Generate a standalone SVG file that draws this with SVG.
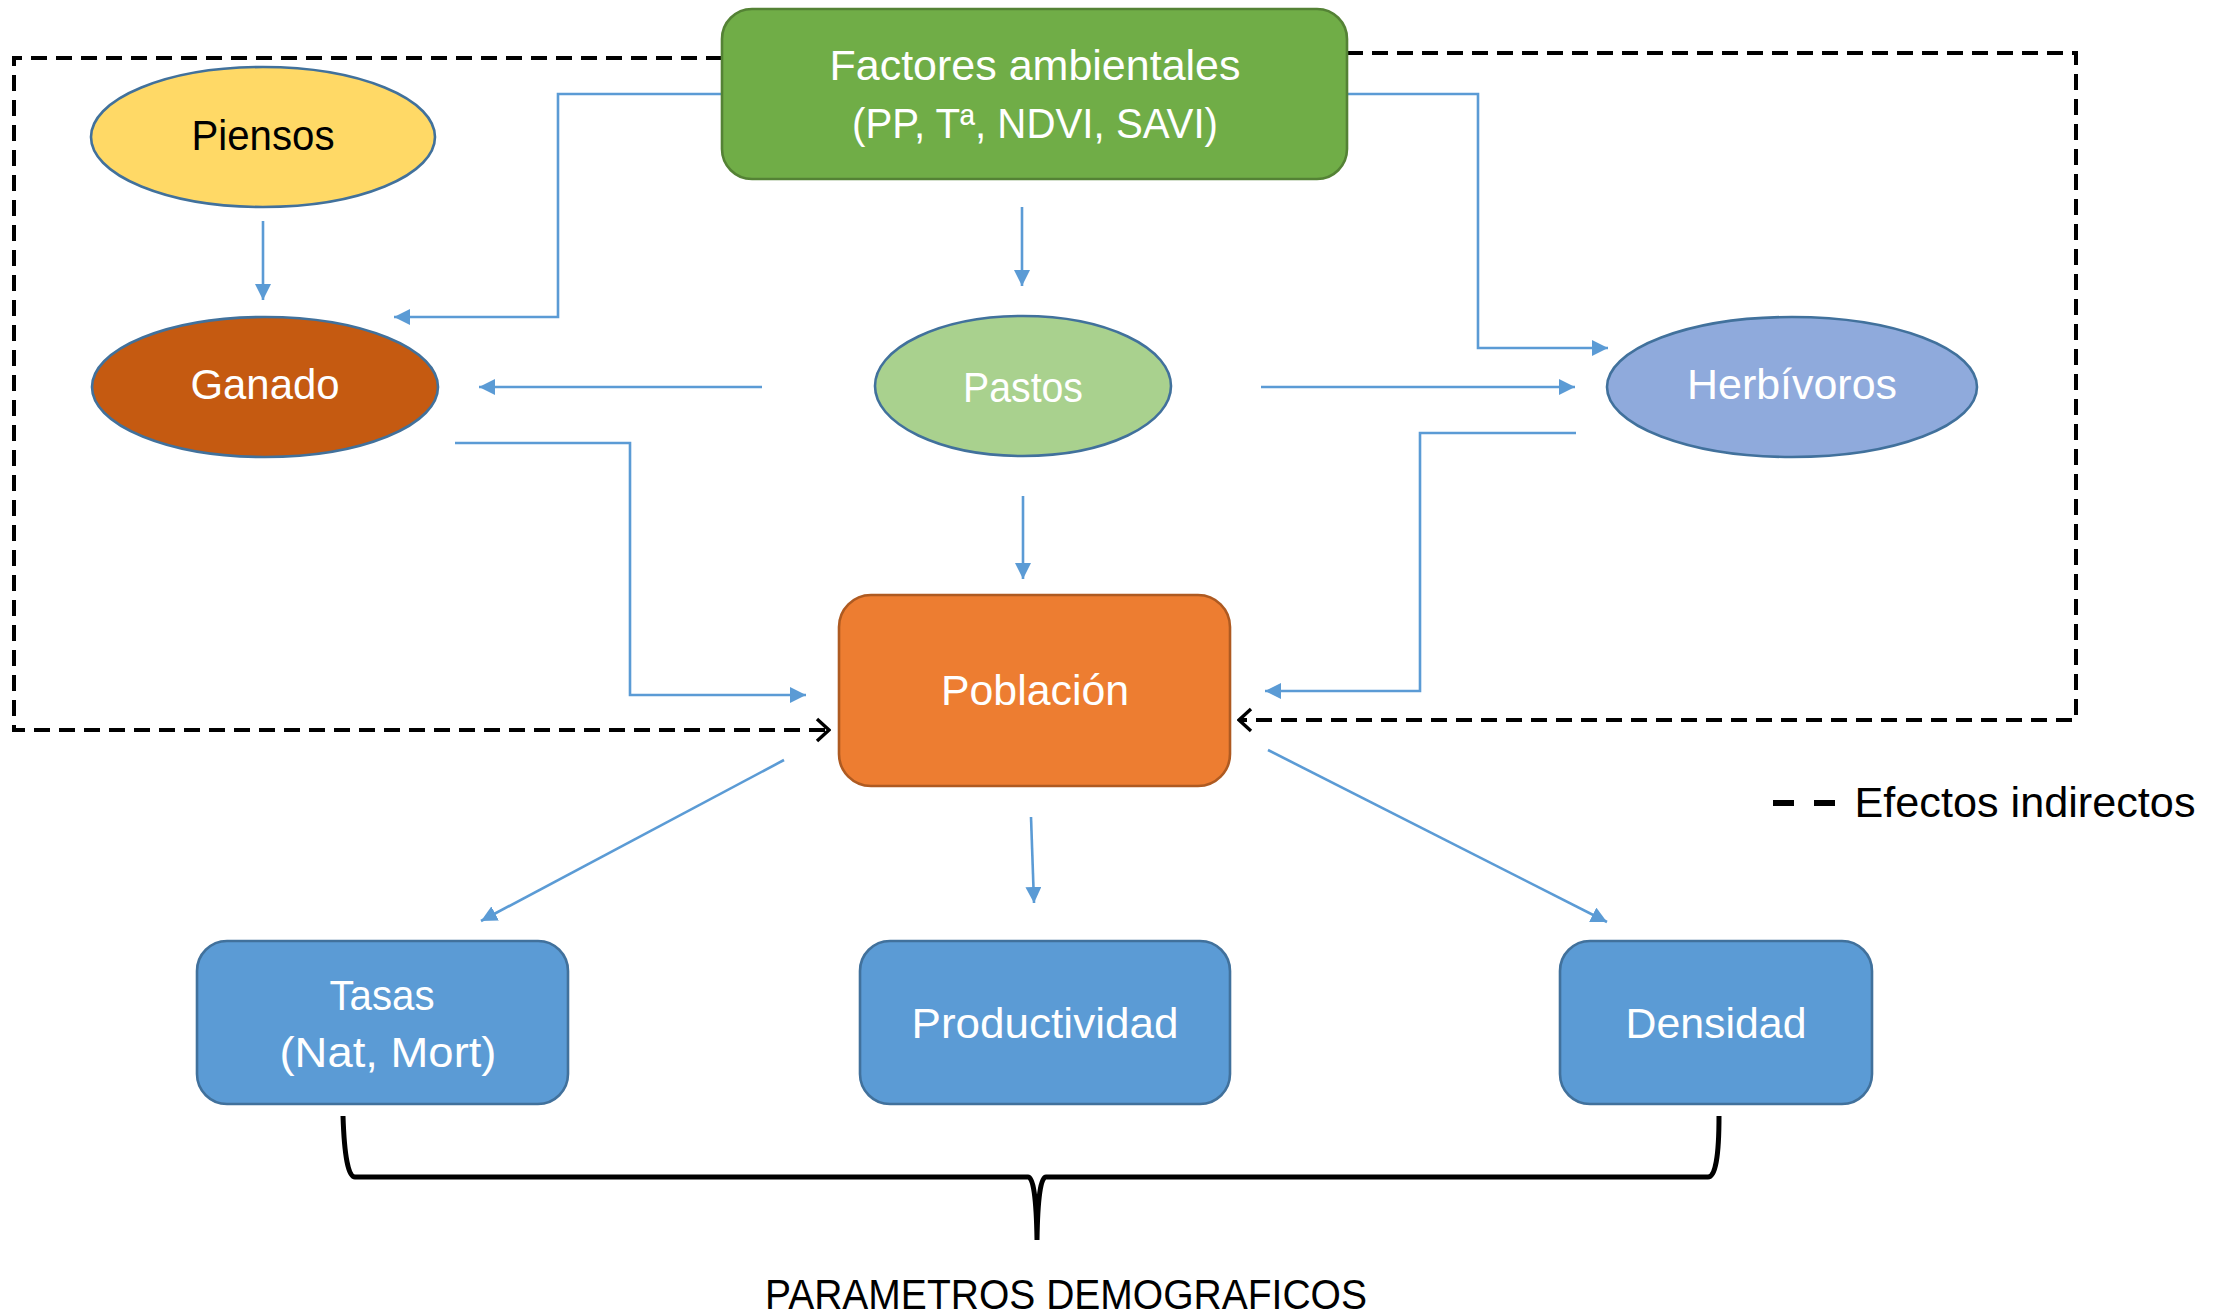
<svg xmlns="http://www.w3.org/2000/svg" width="2230" height="1316" viewBox="0 0 2230 1316">
<style>
.t{font-family:"Liberation Sans",Arial,sans-serif;font-size:42px;text-anchor:middle;fill:#ffffff}
.k{fill:#000000}
.c{fill:none;stroke:#5B9BD5;stroke-width:2.6;marker-end:url(#ab)}
.d{fill:none;stroke:#000;stroke-width:4;stroke-dasharray:16 9;marker-end:url(#ao)}
.el{stroke:#41719C;stroke-width:2.6}
.bx{stroke:#41719C;stroke-width:2.6;fill:#5B9BD5}
</style>
<defs>
<marker id="ab" markerUnits="userSpaceOnUse" viewBox="0 0 16 16" refX="16" refY="8" markerWidth="16" markerHeight="16" orient="auto">
<path d="M0,0 L16,8 L0,16 z" fill="#5B9BD5"/>
</marker>
<marker id="ao" markerUnits="userSpaceOnUse" viewBox="0 0 16 26" refX="14" refY="13" markerWidth="16" markerHeight="26" orient="auto">
<path d="M2,2 L14,13 L2,24" fill="none" stroke="#000" stroke-width="3.4"/>
</marker>
</defs>
<rect width="2230" height="1316" fill="#ffffff"/>
<g id="connectors">
<path class="d" d="M722,58 H14 V730 H829"/>
<path class="d" d="M1347,53 H2076 V720 H1239"/>
<path class="c" d="M263,221 V300"/>
<path class="c" d="M722,94 H558 V317 H394"/>
<path class="c" d="M762,387 H479"/>
<path class="c" d="M1022,207 V286"/>
<path class="c" d="M1261,387 H1575"/>
<path class="c" d="M1347,94 H1478 V348 H1608"/>
<path class="c" d="M1576,433 H1420 V691 H1265"/>
<path class="c" d="M455,443 H630 V695 H806"/>
<path class="c" d="M1023,496 V579"/>
<path class="c" d="M784,760 L481,921"/>
<path class="c" d="M1031,817 L1034,903"/>
<path class="c" d="M1268,750 L1607,922"/>
<path d="M343,1116 Q345,1177 355,1177 L1028,1177 Q1036,1177 1037,1240 Q1038,1177 1046,1177 L1708,1177 Q1719,1177 1719,1116" fill="none" stroke="#000" stroke-width="5"/>
</g>
<g id="factores">
<rect x="722" y="9" width="625" height="170" rx="30" fill="#70AD47" stroke="#548235" stroke-width="2.6"/>
<text class="t" x="1035" y="80" textLength="411" lengthAdjust="spacingAndGlyphs">Factores ambientales</text>
<text class="t" x="1035" y="138" textLength="366" lengthAdjust="spacingAndGlyphs">(PP, Tª, NDVI, SAVI)</text>
</g>
<g id="piensos">
<ellipse class="el" cx="263" cy="137" rx="172" ry="70" fill="#FFD966"/>
<text class="t k" x="263" y="150" textLength="143" lengthAdjust="spacingAndGlyphs">Piensos</text>
</g>
<g id="ganado">
<ellipse class="el" cx="265" cy="387" rx="173" ry="70" fill="#C55A11"/>
<text class="t" x="265" y="399" textLength="149" lengthAdjust="spacingAndGlyphs">Ganado</text>
</g>
<g id="pastos">
<ellipse class="el" cx="1023" cy="386" rx="148" ry="70" fill="#A9D18E"/>
<text class="t" x="1023" y="402" textLength="120" lengthAdjust="spacingAndGlyphs">Pastos</text>
</g>
<g id="herbivoros">
<ellipse class="el" cx="1792" cy="387" rx="185" ry="70" fill="#8FAADC"/>
<text class="t" x="1792" y="399" textLength="210" lengthAdjust="spacingAndGlyphs">Herbívoros</text>
</g>
<g id="poblacion">
<rect x="839" y="595" width="391" height="191" rx="32" fill="#ED7D31" stroke="#AE5A21" stroke-width="2.6"/>
<text class="t" x="1035" y="705" textLength="188" lengthAdjust="spacingAndGlyphs">Población</text>
</g>
<g id="tasas">
<rect class="bx" x="197" y="941" width="371" height="163" rx="30"/>
<text class="t" x="382" y="1010" textLength="105" lengthAdjust="spacingAndGlyphs">Tasas</text>
<text class="t" x="388" y="1067" textLength="217" lengthAdjust="spacingAndGlyphs">(Nat, Mort)</text>
</g>
<g id="productividad">
<rect class="bx" x="860" y="941" width="370" height="163" rx="30"/>
<text class="t" x="1045" y="1038" textLength="267" lengthAdjust="spacingAndGlyphs">Productividad</text>
</g>
<g id="densidad">
<rect class="bx" x="1560" y="941" width="312" height="163" rx="30"/>
<text class="t" x="1716" y="1038" textLength="181" lengthAdjust="spacingAndGlyphs">Densidad</text>
</g>
<g id="leyenda">
<line x1="1773" y1="803" x2="1835" y2="803" stroke="#000" stroke-width="6" stroke-dasharray="21 20"/>
<text class="t k" x="2025" y="817" textLength="341" lengthAdjust="spacingAndGlyphs">Efectos indirectos</text>
</g>
<g id="parametros">
<text class="t k" x="1066" y="1309" textLength="602" lengthAdjust="spacingAndGlyphs">PARAMETROS DEMOGRAFICOS</text>
</g>
</svg>
